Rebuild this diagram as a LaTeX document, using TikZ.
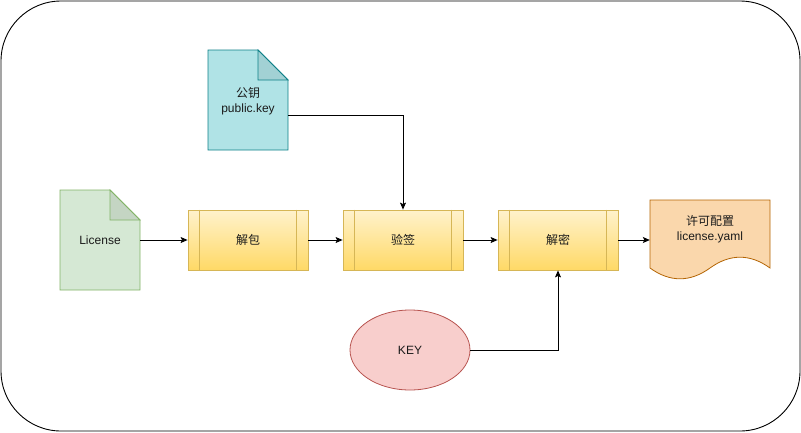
\documentclass[tikz,border=0pt]{standalone}
\usepackage{fontspec}
\setmainfont{Liberation Sans}
\newfontfamily\cjk{Noto Sans CJK SC}
\usetikzlibrary{arrows.meta,shapes.geometric}
\definecolor{lgfill}{HTML}{D5E8D4}\definecolor{lgline}{HTML}{82B366}
\definecolor{pkfill}{HTML}{B0E3E6}\definecolor{pkline}{HTML}{0E8088}
\definecolor{prtop}{HTML}{FFF2CC}\definecolor{prbot}{HTML}{FFD966}\definecolor{prline}{HTML}{D6B656}
\definecolor{oufill}{HTML}{FAD7AC}\definecolor{ouline}{HTML}{B46504}
\definecolor{kyfill}{HTML}{F8CECC}\definecolor{kyline}{HTML}{B85450}
\definecolor{txt}{HTML}{1A1A1A}
\tikzset{
  lbl/.style={font=\fontsize{12}{14.5}\selectfont, text=txt, align=center},
  conn/.style={draw=black, line width=0.9pt, -{Stealth[length=7pt,width=6pt,inset=1.5pt]}},
  procbox/.style={draw=prline, line width=0.8pt, top color=prtop, bottom color=prbot, minimum width=120pt, minimum height=60pt, inner sep=0pt},
}
\begin{document}
\begin{tikzpicture}[x=1pt,y=-1pt]
\useasboundingbox (0,0) rectangle (801,432);
% outer frame
\draw[line width=0.9pt, rounded corners=60pt] (1,1) rectangle (800,431);

% License document
\filldraw[fill=lgfill, draw=lgline, line width=0.8pt] (60,190) -- (110,190) -- (140,220) -- (140,290) -- (60,290) -- cycle;
\filldraw[fill=lgfill!92!black, draw=lgline, line width=0.8pt] (110,190) -- (110,220) -- (140,220) -- cycle;
\node[lbl, minimum width=80pt, minimum height=100pt, inner sep=0pt] (lic) at (100,240) {License};

% public key document
\filldraw[fill=pkfill, draw=pkline, line width=0.8pt] (208,50) -- (258,50) -- (288,80) -- (288,150) -- (208,150) -- cycle;
\filldraw[fill=pkfill!92!black, draw=pkline, line width=0.8pt] (258,50) -- (258,80) -- (288,80) -- cycle;
\node[lbl, minimum width=80pt, minimum height=100pt, inner sep=0pt] (pub) at (248,101) {{\cjk 公钥}\\public.key};

% process boxes
\node[procbox] (unpack) at (248,240) {};
\node[procbox] (verify) at (403,240) {};
\node[procbox] (decrypt) at (558,240) {};
\foreach \n/\t in {unpack/解包,verify/验签,decrypt/解密}{
  \draw[prline, line width=0.8pt] ([xshift=12pt]\n.north west) -- ([xshift=12pt]\n.south west);
  \draw[prline, line width=0.8pt] ([xshift=-12pt]\n.north east) -- ([xshift=-12pt]\n.south east);
  \node[lbl] at (\n) {\cjk \t};
}

% output document (wavy bottom)
\filldraw[fill=oufill, draw=ouline, line width=0.8pt] (650,200) -- (770,200) -- (770,268)
  .. controls (750,253.6) and (730,253.6) .. (710,268)
  .. controls (690,282.4) and (670,282.4) .. (650,268) -- cycle;
\node[lbl, minimum width=120pt, minimum height=80pt, inner sep=0pt] (out) at (710,240) {};
\node[lbl] at (710,229) {{\cjk 许可配置}\\license.yaml};

% KEY ellipse
\node[ellipse, draw=kyline, fill=kyfill, line width=0.8pt, minimum width=120pt, minimum height=80pt, inner sep=0pt, lbl] (key) at (410,350) {KEY};

% connectors
\draw[conn] (lic.east) -- (unpack.west);
\draw[conn] (unpack.east) -- (verify.west);
\draw[conn] (verify.east) -- (decrypt.west);
\draw[conn] (decrypt.east) -- (out.west);
\draw[conn] ([yshift=-14pt]pub.east) -| (verify.north);
\draw[conn] (key.east) -| (decrypt.south);
\end{tikzpicture}
\end{document}
